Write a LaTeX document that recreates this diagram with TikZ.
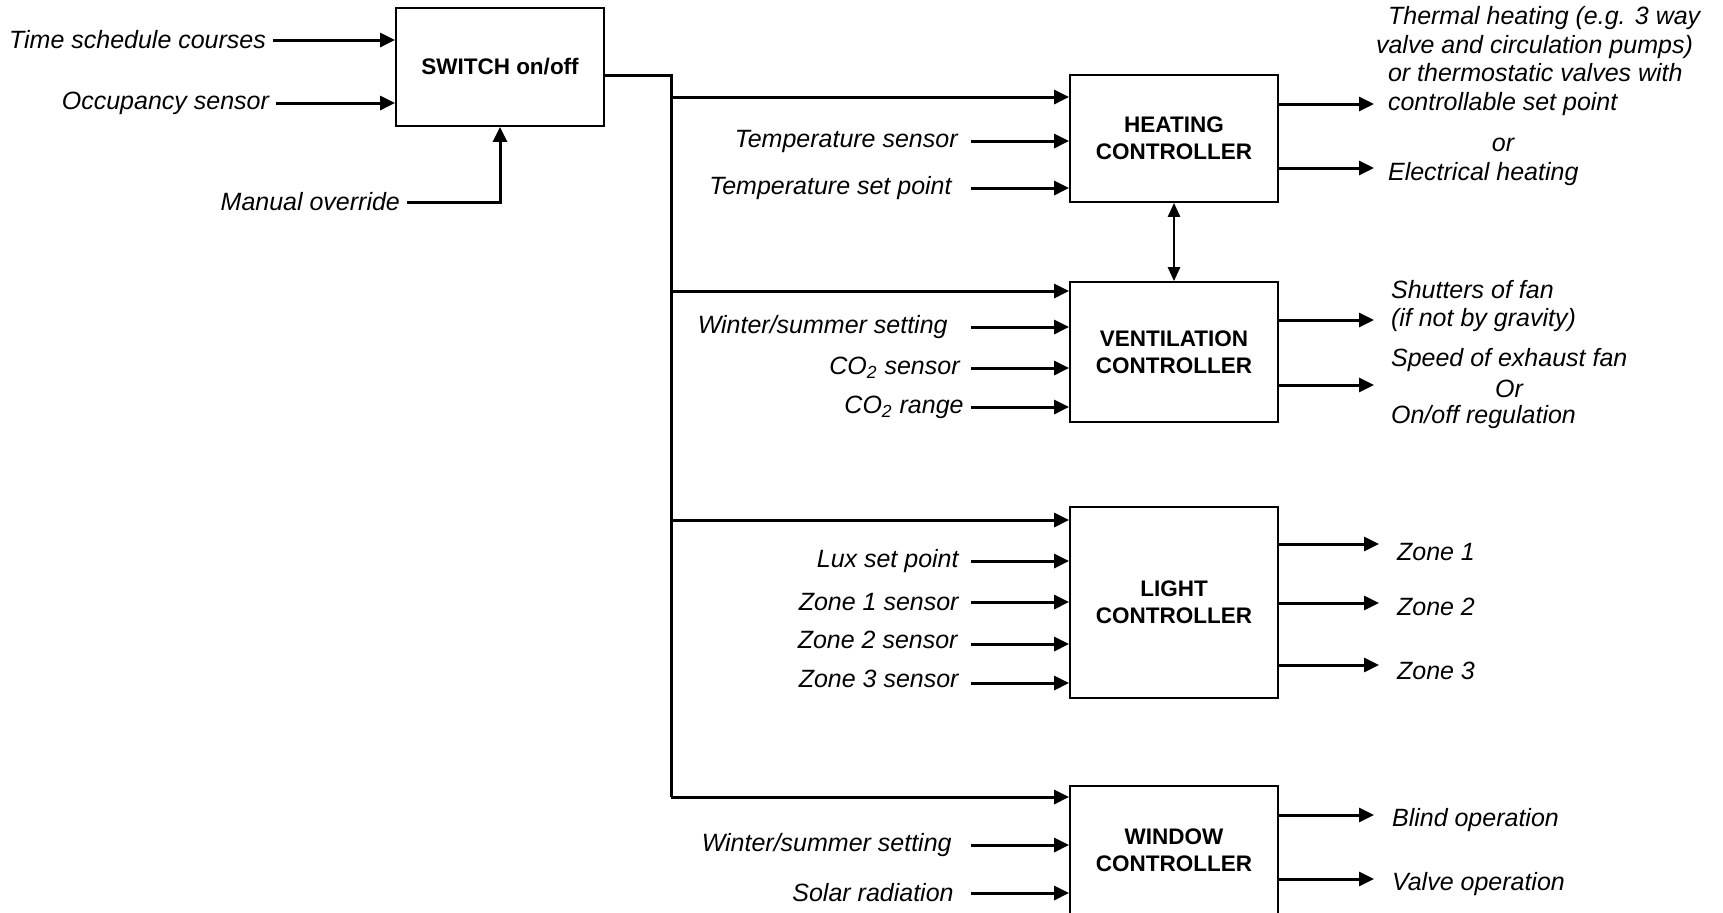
\documentclass[tikz,border=0pt]{standalone}
\usepackage{fontspec}
\setmainfont{Liberation Sans}
\usetikzlibrary{arrows.meta}

\begin{document}
\begin{tikzpicture}[
  x=0.5pt, y=-0.5pt,
  ctrlbox/.style={draw, line width=0.9pt, minimum width=104pt, align=center,
    font=\bfseries\fontsize{11.25}{13.5}\selectfont},
  lbl/.style={font=\itshape\fontsize{12.5}{14.3}\selectfont},
  inlbl/.style={lbl, anchor=east},
  outlbl/.style={lbl, anchor=west, align=left},
  arr/.style={line width=1.5pt, -{Triangle[length=7.5pt,width=7pt]}},
  bus/.style={line width=1.5pt},
  biarr/.style={line width=1.3pt, {Triangle[length=7pt,width=6pt]}-{Triangle[length=7pt,width=6pt]}}
]
\clip (0,0) rectangle (1723,912);

% Controller boxes
\node[ctrlbox, minimum height=59pt] (sw) at (500,67) {SWITCH on/off};
\node[ctrlbox, minimum height=63.5pt] (heat) at (1174,138.5) {HEATING\\CONTROLLER};
\node[ctrlbox, minimum height=70pt] (vent) at (1174,352) {VENTILATION\\CONTROLLER};
\node[ctrlbox, minimum height=95.5pt] (light) at (1174,602.5) {LIGHT\\CONTROLLER};
\node[ctrlbox, minimum height=64pt] (win) at (1174,850) {WINDOW\\CONTROLLER};

% Switch inputs
\node[inlbl] (tsc) at (273,40) {Time schedule courses};
\node[inlbl] (occ) at (276,103) {Occupancy sensor};
\node[inlbl] (man) at (407,202) {Manual override};
\draw[arr] (tsc.east) -- (tsc.east -| sw.west);
\draw[arr] (occ.east) -- (occ.east -| sw.west);
\draw[arr] (man.east) -| (sw.south);

% Switch output bus
\coordinate (bustop) at (671,75);
\coordinate (busbot) at (671,797);
\draw[bus] (sw.east |- bustop) -- (bustop) -- (busbot);
\coordinate (tapH) at (671,97);
\coordinate (tapV) at (671,291);
\coordinate (tapL) at (671,520);
\draw[arr] (tapH) -- (tapH -| heat.west);
\draw[arr] (tapV) -- (tapV -| vent.west);
\draw[arr] (tapL) -- (tapL -| light.west);
\draw[arr] (busbot) -- (busbot -| win.west);

% Heating controller
\node[inlbl, inner xsep=6.5pt] (tsens) at (971,141) {Temperature sensor};
\node[inlbl, inner xsep=9.5pt] (tset) at (971,188) {Temperature set point};
\draw[arr] (tsens.east) -- (tsens.east -| heat.west);
\draw[arr] (tset.east) -- (tset.east -| heat.west);
\node[outlbl] (thout) at (1381,61) {Thermal heating (e.g. 3 way\\\hspace*{-6pt}valve and circulation pumps)\\or thermostatic valves with\\controllable set point};
\node[lbl] (hor) at (1503,145) {or};
\node[outlbl] (elout) at (1381,174) {Electrical heating};
\coordinate (ho1) at (1374,104);
\coordinate (ho2) at (1374,168);
\draw[arr] (heat.east |- ho1) -- (ho1);
\draw[arr] (heat.east |- ho2) -- (ho2);

\draw[biarr] (heat.south) -- (vent.north);

% Ventilation controller
\node[inlbl, inner xsep=11.5pt] (vws) at (971,327) {Winter/summer setting};
\node[inlbl, inner xsep=5.5pt] (co2s) at (971,368) {CO\textsubscript{2} sensor};
\node[inlbl, inner xsep=3.5pt] (co2r) at (971,407) {CO\textsubscript{2} range};
\draw[arr] (vws.east) -- (vws.east -| vent.west);
\draw[arr] (co2s.east) -- (co2s.east -| vent.west);
\draw[arr] (co2r.east) -- (co2r.east -| vent.west);
\node[outlbl] (shut) at (1384,306) {Shutters of fan\\(if not by gravity)};
\node[outlbl] (speed) at (1384,360) {Speed of exhaust fan};
\node[lbl] (vor) at (1509,389) {Or};
\node[outlbl] (onoff) at (1384,417) {On/off regulation};
\coordinate (vo1) at (1374,320);
\coordinate (vo2) at (1374,385);
\draw[arr] (vent.east |- vo1) -- (vo1);
\draw[arr] (vent.east |- vo2) -- (vo2);

% Light controller
\node[inlbl, inner xsep=6pt] (lux) at (971,561) {Lux set point};
\node[inlbl, inner xsep=6pt] (z1s) at (971,602) {Zone 1 sensor};
\node[inlbl, inner xsep=6.5pt] (z2s) at (971,640) {Zone 2 sensor};
\node[inlbl, inner xsep=6pt] (z3s) at (971,679) {Zone 3 sensor};
\draw[arr] (lux.east) -- (lux.east -| light.west);
\draw[arr] (z1s.east) -- (z1s.east -| light.west);
\draw[arr] ([yshift=-2pt]z2s.east) -- ([yshift=-2pt]z2s.east -| light.west);
\draw[arr] ([yshift=-2pt]z3s.east) -- ([yshift=-2pt]z3s.east -| light.west);
\node[outlbl] (z1) at (1390,552) {Zone 1};
\node[outlbl] (z2) at (1390,607) {Zone 2};
\node[outlbl] (z3) at (1390,671) {Zone 3};
\coordinate (lo1) at (1379,544);
\coordinate (lo2) at (1379,603);
\coordinate (lo3) at (1379,665);
\draw[arr] (light.east |- lo1) -- (lo1);
\draw[arr] (light.east |- lo2) -- (lo2);
\draw[arr] (light.east |- lo3) -- (lo3);

% Window controller
\node[inlbl, inner xsep=9.5pt] (wws) at (971,845) {Winter/summer setting};
\node[inlbl, inner xsep=8.5pt] (sol) at (971,893) {Solar radiation};
\draw[arr] (wws.east) -- (wws.east -| win.west);
\draw[arr] (sol.east) -- (sol.east -| win.west);
\node[outlbl] (blind) at (1385,820) {Blind operation};
\node[outlbl] (valve) at (1385,884) {Valve operation};
\coordinate (wo1) at (1374,815);
\coordinate (wo2) at (1374,879);
\draw[arr] (win.east |- wo1) -- (wo1);
\draw[arr] (win.east |- wo2) -- (wo2);
\end{tikzpicture}
\end{document}
